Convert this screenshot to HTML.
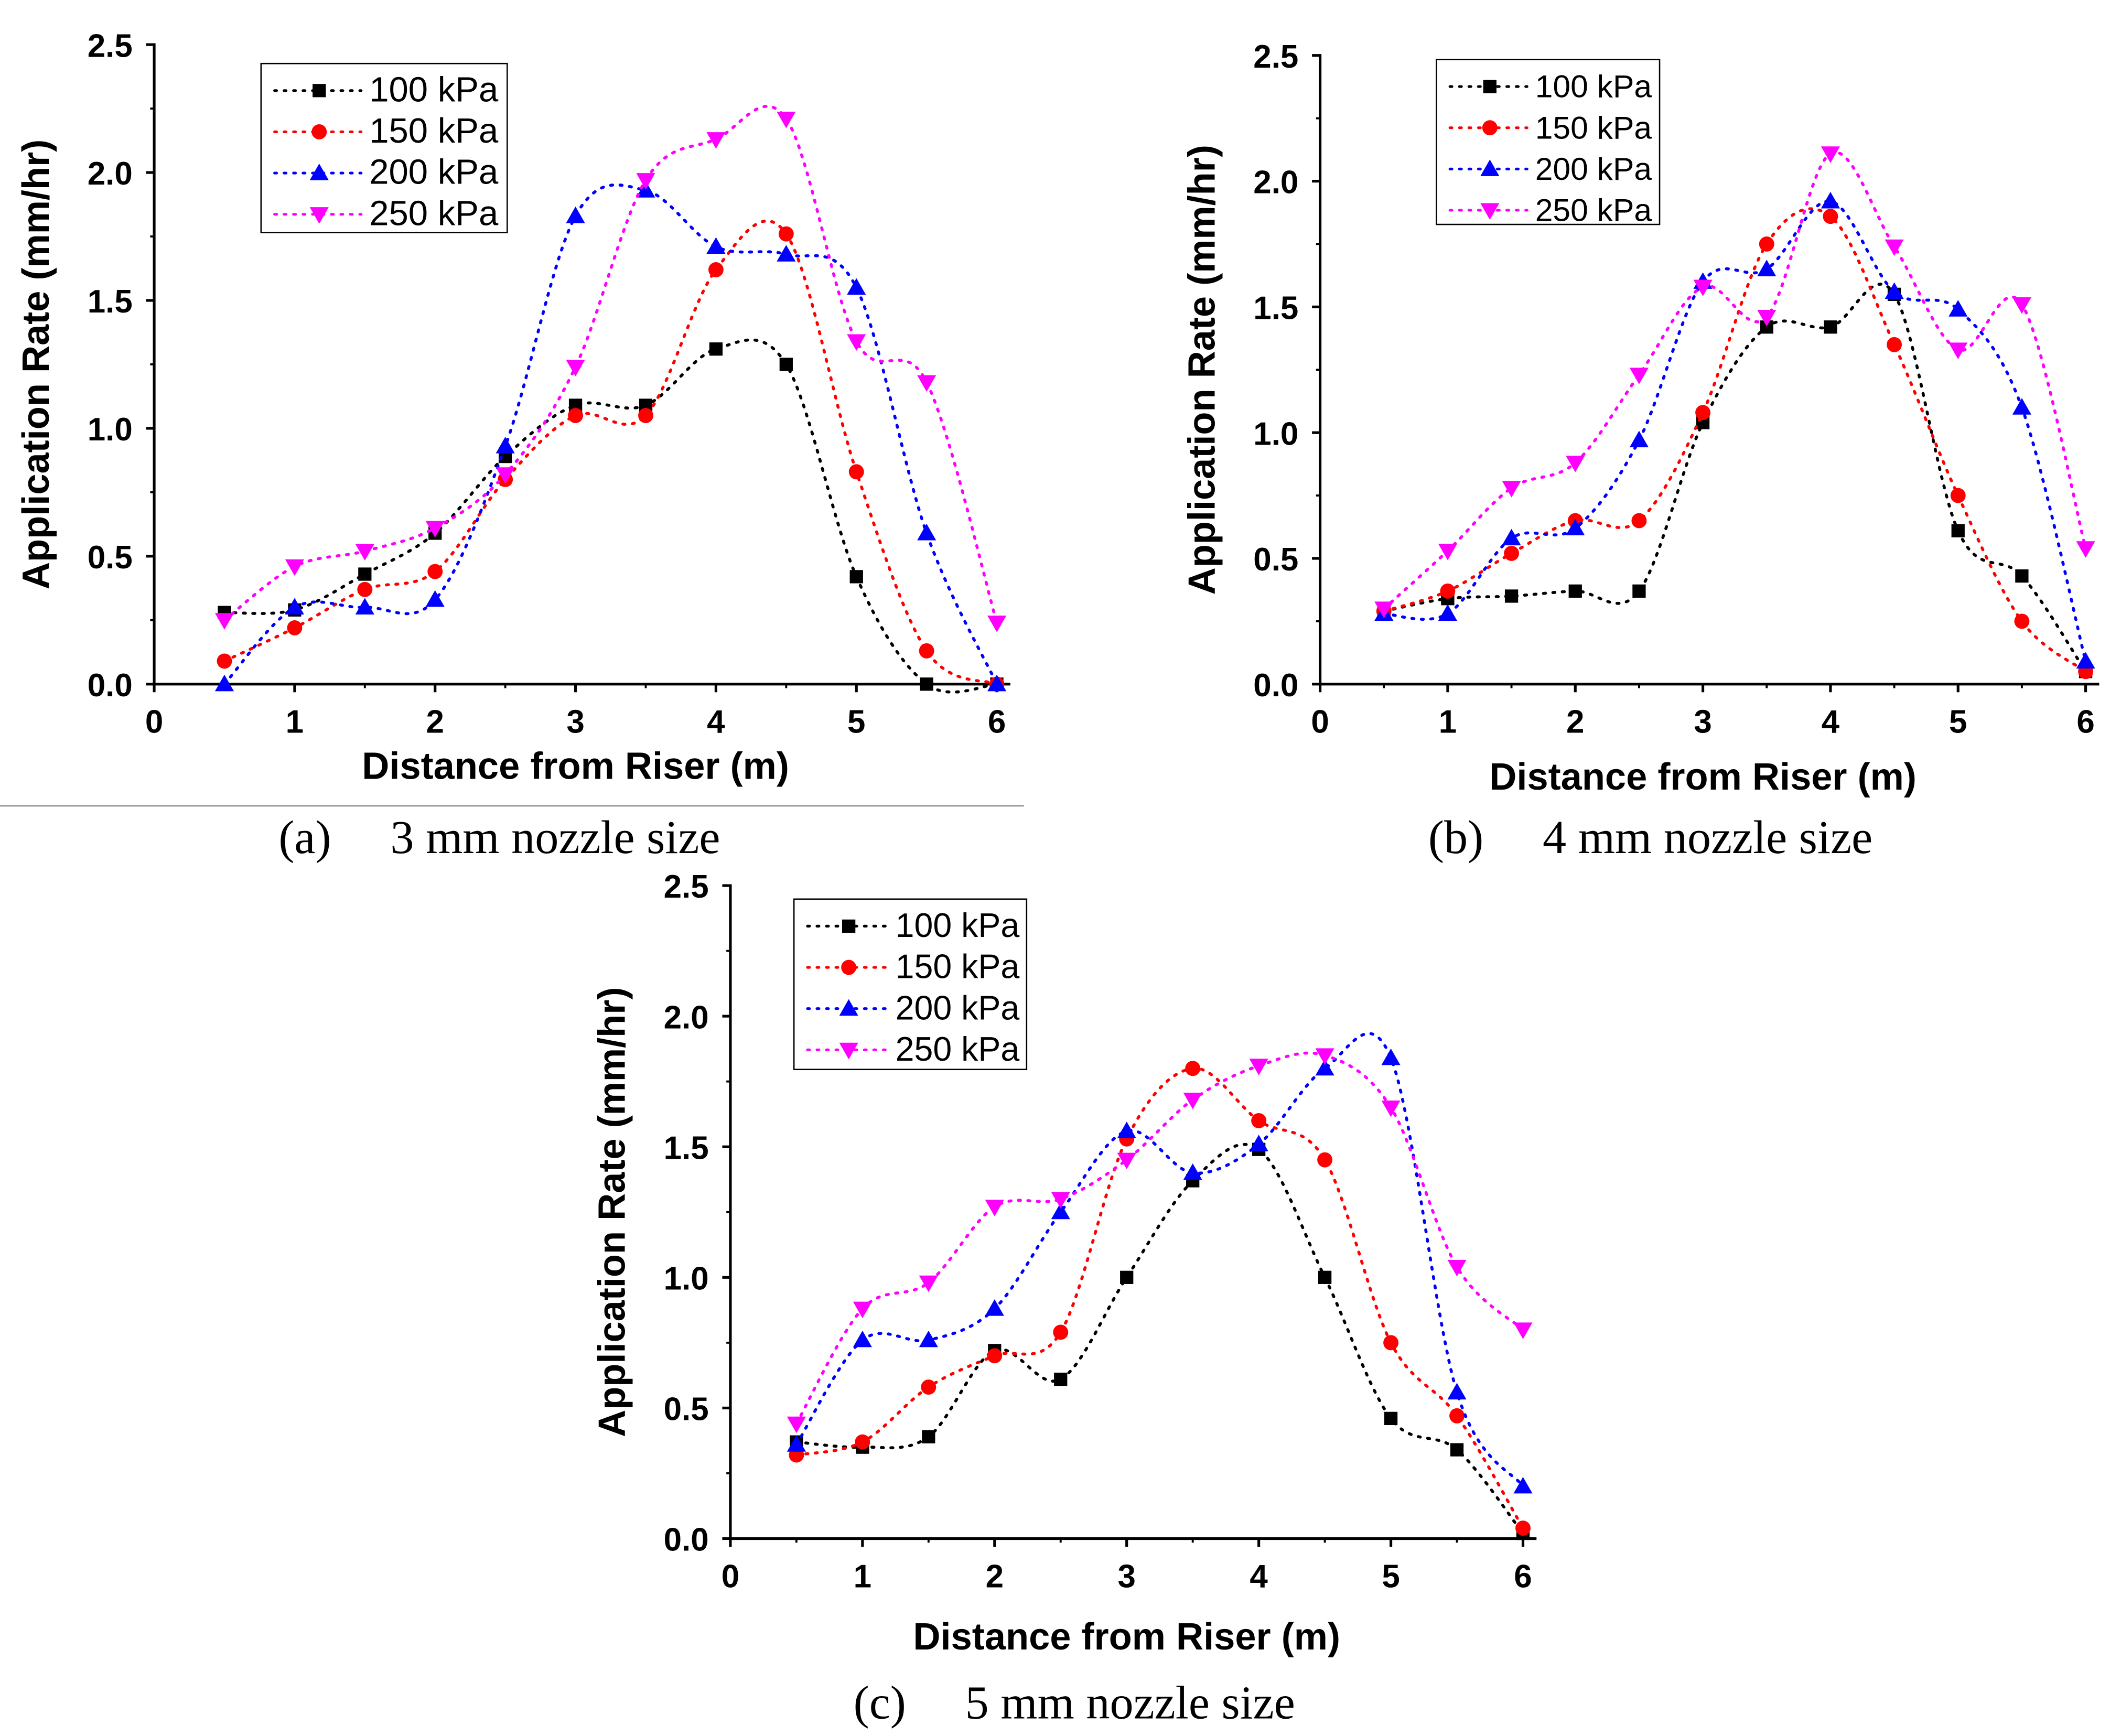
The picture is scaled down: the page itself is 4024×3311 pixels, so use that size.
<!DOCTYPE html>
<html><head><meta charset="utf-8">
<style>
html,body{margin:0;padding:0;background:#fff;}
svg{display:block;}
.tk{font-family:"Liberation Sans",sans-serif;font-weight:bold;font-size:24px;fill:#000;}
.lg{font-family:"Liberation Sans",sans-serif;font-size:26px;fill:#000;}
.cap{font-family:"Liberation Serif",serif;font-size:35px;fill:#000;}
</style></head>
<body>
<svg id="fig" width="4024" height="3311" viewBox="0 0 1560 1284" preserveAspectRatio="none" xmlns="http://www.w3.org/2000/svg">
<line x1="0" y1="596" x2="757" y2="596" stroke="#999" stroke-width="1.2"/>
<text class="cap" x="206" y="631">(a)&#160;&#160;&#160;&#160; 3 mm nozzle size</text>
<text class="cap" x="1056" y="631">(b)&#160;&#160;&#160;&#160; 4 mm nozzle size</text>
<text class="cap" x="631" y="1271">(c)&#160;&#160;&#160;&#160; 5 mm nozzle size</text>
</svg>
<script>
const xVals=[0.5,1,1.5,2,2.5,3,3.5,4,4.5,5,5.5,6];
const seriesNames=["100 kPa","150 kPa","200 kPa","250 kPa"];
const a100=[0.28,0.29,0.43,0.59,0.89,1.09,1.09,1.31,1.25,0.42,0.0,0.0];
const a150=[0.09,0.22,0.37,0.44,0.80,1.05,1.05,1.62,1.76,0.83,0.13,0.0];
const a200=[0.0,0.30,0.30,0.33,0.93,1.83,1.93,1.71,1.68,1.55,0.59,0.0];
const a250=[0.25,0.46,0.52,0.61,0.82,1.24,1.97,2.13,2.21,1.34,1.18,0.24];
const b100=[0.29,0.34,0.35,0.37,0.37,1.04,1.42,1.42,1.55,0.61,0.43,0.05];
const b150=[0.29,0.37,0.52,0.65,0.65,1.08,1.75,1.86,1.35,0.75,0.25,0.05];
const b200=[0.28,0.28,0.58,0.62,0.97,1.60,1.65,1.92,1.56,1.49,1.10,0.09];
const b250=[0.30,0.53,0.78,0.88,1.23,1.58,1.46,2.11,1.74,1.33,1.51,0.54];
const c100=[0.37,0.35,0.39,0.72,0.61,1.0,1.37,1.49,1.0,0.46,0.34,0.02];
const c150=[0.32,0.37,0.58,0.70,0.79,1.53,1.80,1.60,1.45,0.75,0.47,0.04];
const c200=[0.36,0.76,0.76,0.88,1.25,1.56,1.40,1.51,1.80,1.84,0.56,0.20];
const c250=[0.44,0.88,0.98,1.27,1.30,1.45,1.68,1.81,1.85,1.65,1.04,0.80];
const xTicks=[0,1,2,3,4,5,6];
const yTicks=["0.0","0.5","1.0","1.5","2.0","2.5"];

const NS="http://www.w3.org/2000/svg";
const svg=document.getElementById('fig');
const colors=["#000","#f00","#00f","#f0f"];
function mk(t,at,p){const e=document.createElementNS(NS,t);for(const k in at)e.setAttribute(k,at[k]);(p||svg).appendChild(e);return e;}
function spline(pts){let d="M"+pts[0][0]+","+pts[0][1];for(let i=0;i<pts.length-1;i++){const p0=pts[Math.max(i-1,0)],p1=pts[i],p2=pts[i+1],p3=pts[Math.min(i+2,pts.length-1)];const c1=[p1[0]+(p2[0]-p0[0])/6,p1[1]+(p2[1]-p0[1])/6],c2=[p2[0]-(p3[0]-p1[0])/6,p2[1]-(p3[1]-p1[1])/6];d+=" C"+c1[0]+","+c1[1]+" "+c2[0]+","+c2[1]+" "+p2[0]+","+p2[1];}return d;}
function marker(g,i,x,y,s){s=s||7;let e;
 if(i===0){e=mk('rect',{x:x-s*0.7,y:y-s*0.7,width:s*1.4,height:s*1.4,fill:colors[i]},g);}
 else if(i===1){e=mk('circle',{cx:x,cy:y,r:s*0.8,fill:colors[i]},g);}
 else if(i===2){e=mk('polygon',{points:(x)+","+(y-s)+" "+(x-s)+","+(y+s*0.75)+" "+(x+s)+","+(y+s*0.75),fill:colors[i]},g);}
 else {e=mk('polygon',{points:(x)+","+(y+s)+" "+(x-s)+","+(y-s*0.75)+" "+(x+s)+","+(y-s*0.75),fill:colors[i]},g);}
 
 
 return e;}
function chart(id,cfg,data){
 const g=mk('g',{});
 
 
 const sx=v=>cfg.x0+(cfg.x6-cfg.x0)*v/6, sy=v=>cfg.y0-(cfg.y0-cfg.y25)*v/2.5;
 const ax=mk('path',{d:"M"+sx(0)+","+(sy(2.5)-1)+" V"+sy(0)+" H"+(sx(6)+10),stroke:"#000","stroke-width":2,fill:"none"},g);
 
 
 xTicks.forEach(t=>{mk('line',{x1:sx(t),x2:sx(t),y1:sy(0),y2:sy(0)+6,stroke:"#000","stroke-width":2},g);
  if(t<6)mk('line',{x1:sx(t+0.5),x2:sx(t+0.5),y1:sy(0),y2:sy(0)+3,stroke:"#000","stroke-width":1.5},g);
  const tx=mk('text',{x:sx(t),y:sy(0)+36,"text-anchor":"middle",class:"tk"},g);tx.textContent=t;
  
  });
 yTicks.forEach(t=>{const v=parseFloat(t);mk('line',{x1:sx(0)-6,x2:sx(0),y1:sy(v),y2:sy(v),stroke:"#000","stroke-width":2},g);
  if(v<2.5)mk('line',{x1:sx(0)-3,x2:sx(0),y1:sy(v+0.25),y2:sy(v+0.25),stroke:"#000","stroke-width":1.5},g);
  const tx=mk('text',{x:sx(0)-16,y:sy(v)+9,"text-anchor":"end",class:"tk"},g);tx.textContent=t;
  
  });
 const xt=mk('text',{x:(sx(0)+sx(6))/2,y:sy(0)+cfg.xtOff,"text-anchor":"middle",class:"tk",style:"font-size:28px"},g);xt.textContent="Distance from Riser (m)";
 
 
 const yc=(sy(0)+sy(2.5))/2+cfg.ytShift;
 const yt=mk('text',{x:0,y:0,"text-anchor":"middle",class:"tk",style:"font-size:28px",transform:"translate("+(sx(0)-cfg.ytOff)+","+yc+") rotate(-90)"},g);yt.textContent="Application Rate (mm/hr)";
 
 
 data.forEach((arr,i)=>{const pts=arr.map((v,k)=>[sx(xVals[k]),sy(v)]);
  const p=mk('path',{d:spline(pts),stroke:colors[i],"stroke-width":2.2,fill:"none","stroke-dasharray":"1.5,5.5","stroke-linecap":"round"},g);
  
  
  pts.forEach(q=>marker(g,i,q[0],q[1]));});
 const L=cfg.leg;
 const lb=mk('rect',{x:L[0],y:L[1],width:L[2],height:L[3],fill:"#fff",stroke:"#000","stroke-width":1},g);
 
 
 seriesNames.forEach((n,i)=>{const yy=L[1]+20+i*30.5;
  mk('line',{x1:L[0]+10,x2:L[0]+cfg.lgTx-6,y1:yy,y2:yy,stroke:colors[i],"stroke-width":2,"stroke-dasharray":"1.5,5.5","stroke-linecap":"round"},g);
  marker(g,i,L[0]+(cfg.lgTx)/2+3,yy);
  const tx=mk('text',{x:L[0]+cfg.lgTx,y:yy+8,class:"lg",style:"font-size:"+cfg.lgFs+"px"},g);tx.textContent=n;
  
  });
}
chart('a',{x0:114,x6:737,y0:506,y25:33,xtOff:70,ytOff:78,ytShift:0,leg:[193,47,182,125],lgTx:80,lgFs:26},[a100,a150,a200,a250]);
chart('b',{x0:976,x6:1542,y0:506,y25:41,xtOff:78,ytOff:78,ytShift:0,leg:[1062,44,165,122],lgTx:73,lgFs:23.5},[b100,b150,b200,b250]);
chart('c',{x0:540,x6:1126,y0:1138,y25:655,xtOff:82,ytOff:78,ytShift:0,leg:[587,665,172,126],lgTx:75,lgFs:25},[c100,c150,c200,c250]);
</script>
</body></html>
